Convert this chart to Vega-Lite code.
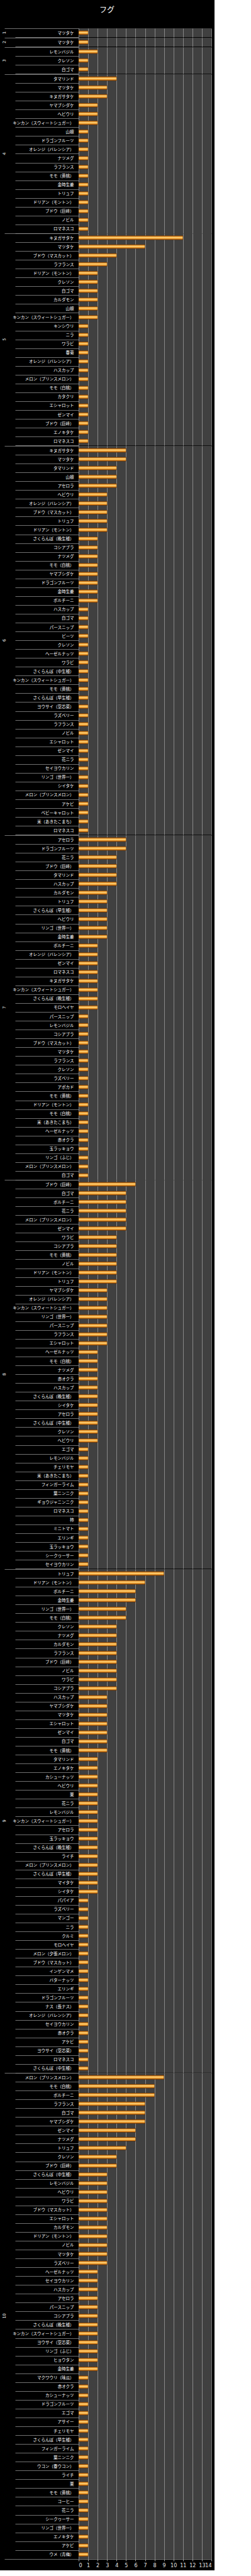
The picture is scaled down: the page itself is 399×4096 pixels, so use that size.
{
"$schema": "https://vega.github.io/schema/vega-lite/v6.json",
"background": "#000000",
"padding": {"left": 3, "top": 10, "right": 4, "bottom": 4},
"title": {"text": "フグ", "color": "#ffffff", "fontSize": 12, "font": "Noto Sans CJK JP", "fontWeight": "normal", "anchor": "middle", "offset": 19},
"data": {"values": [
{"g":1,"item":"マツタケ","v":1},
{"g":2,"item":"マツタケ","v":1},
{"g":3,"item":"レモンバジル","v":2},{"g":3,"item":"クレソン","v":1},{"g":3,"item":"白ゴマ","v":1},
{"g":4,"item":"タマリンド","v":4},{"g":4,"item":"マツタケ","v":3},{"g":4,"item":"キヌガサタケ","v":3},{"g":4,"item":"ヤマブシダケ","v":2},{"g":4,"item":"ヘビウリ","v":2},{"g":4,"item":"キンカン（スウィートシュガー）","v":2},{"g":4,"item":"山椒","v":1},{"g":4,"item":"ドラゴンフルーツ","v":1},{"g":4,"item":"オレンジ（バレンシア）","v":1},{"g":4,"item":"ナツメグ","v":1},{"g":4,"item":"ラフランス","v":1},{"g":4,"item":"モモ（黄桃）","v":1},{"g":4,"item":"金時生姜","v":1},{"g":4,"item":"トリュフ","v":1},{"g":4,"item":"ドリアン（モントン）","v":1},{"g":4,"item":"ブドウ（巨峰）","v":1},{"g":4,"item":"ノビル","v":1},{"g":4,"item":"ロマネスコ","v":1},
{"g":5,"item":"キヌガサタケ","v":11},{"g":5,"item":"マツタケ","v":7},{"g":5,"item":"ブドウ（マスカット）","v":4},{"g":5,"item":"ラフランス","v":3},{"g":5,"item":"ドリアン（モントン）","v":2},{"g":5,"item":"クレソン","v":2},{"g":5,"item":"白ゴマ","v":2},{"g":5,"item":"カルダモン","v":2},{"g":5,"item":"山椒","v":2},{"g":5,"item":"キンカン（スウィートシュガー）","v":2},{"g":5,"item":"キンシウリ","v":1},{"g":5,"item":"ニラ","v":1},{"g":5,"item":"ワラビ","v":1},{"g":5,"item":"春菊","v":1},{"g":5,"item":"オレンジ（バレンシア）","v":1},{"g":5,"item":"ハスカップ","v":1},{"g":5,"item":"メロン（プリンスメロン）","v":1},{"g":5,"item":"モモ（白桃）","v":1},{"g":5,"item":"カタクリ","v":1},{"g":5,"item":"エシャロット","v":1},{"g":5,"item":"ゼンマイ","v":1},{"g":5,"item":"ブドウ（巨峰）","v":1},{"g":5,"item":"エノキタケ","v":1},{"g":5,"item":"ロマネスコ","v":1},
{"g":6,"item":"キヌガサタケ","v":5},{"g":6,"item":"マツタケ","v":5},{"g":6,"item":"タマリンド","v":4},{"g":6,"item":"山椒","v":4},{"g":6,"item":"アセロラ","v":4},{"g":6,"item":"ヘビウリ","v":3},{"g":6,"item":"オレンジ（バレンシア）","v":3},{"g":6,"item":"ブドウ（マスカット）","v":3},{"g":6,"item":"トリュフ","v":3},{"g":6,"item":"ドリアン（モントン）","v":3},{"g":6,"item":"さくらんぼ（晩生種）","v":2},{"g":6,"item":"コシアブラ","v":2},{"g":6,"item":"ナツメグ","v":2},{"g":6,"item":"モモ（白桃）","v":2},{"g":6,"item":"ヤマブシダケ","v":2},{"g":6,"item":"ドラゴンフルーツ","v":2},{"g":6,"item":"金時生姜","v":2},{"g":6,"item":"ポルチーニ","v":2},{"g":6,"item":"ハスカップ","v":1},{"g":6,"item":"白ゴマ","v":1},{"g":6,"item":"パースニップ","v":1},{"g":6,"item":"ビーツ","v":1},{"g":6,"item":"クレソン","v":1},{"g":6,"item":"ヘーゼルナッツ","v":1},{"g":6,"item":"ワラビ","v":1},{"g":6,"item":"さくらんぼ（中生種）","v":1},{"g":6,"item":"キンカン（スウィートシュガー）","v":1},{"g":6,"item":"モモ（黄桃）","v":1},{"g":6,"item":"さくらんぼ（早生種）","v":1},{"g":6,"item":"ヨウサイ（空芯菜）","v":1},{"g":6,"item":"ラズベリー","v":1},{"g":6,"item":"ラフランス","v":1},{"g":6,"item":"ノビル","v":1},{"g":6,"item":"エシャロット","v":1},{"g":6,"item":"ゼンマイ","v":1},{"g":6,"item":"花ニラ","v":1},{"g":6,"item":"セイヨウカリン","v":1},{"g":6,"item":"リンゴ（世界一）","v":1},{"g":6,"item":"シイタケ","v":1},{"g":6,"item":"メロン（プリンスメロン）","v":1},{"g":6,"item":"アケビ","v":1},{"g":6,"item":"ベビーキャロット","v":1},{"g":6,"item":"米（あきたこまち）","v":1},{"g":6,"item":"ロマネスコ","v":1},
{"g":7,"item":"アセロラ","v":5},{"g":7,"item":"ドラゴンフルーツ","v":5},{"g":7,"item":"花ニラ","v":4},{"g":7,"item":"ブドウ（巨峰）","v":4},{"g":7,"item":"タマリンド","v":4},{"g":7,"item":"ハスカップ","v":4},{"g":7,"item":"カルダモン","v":3},{"g":7,"item":"トリュフ","v":3},{"g":7,"item":"さくらんぼ（早生種）","v":3},{"g":7,"item":"ヘビウリ","v":3},{"g":7,"item":"リンゴ（世界一）","v":3},{"g":7,"item":"金時生姜","v":3},{"g":7,"item":"ポルチーニ","v":2},{"g":7,"item":"オレンジ（バレンシア）","v":2},{"g":7,"item":"ゼンマイ","v":2},{"g":7,"item":"ロマネスコ","v":2},{"g":7,"item":"キヌガサタケ","v":2},{"g":7,"item":"キンカン（スウィートシュガー）","v":2},{"g":7,"item":"さくらんぼ（晩生種）","v":2},{"g":7,"item":"モロヘイヤ","v":2},{"g":7,"item":"パースニップ","v":1},{"g":7,"item":"レモンバジル","v":1},{"g":7,"item":"コシアブラ","v":1},{"g":7,"item":"ブドウ（マスカット）","v":1},{"g":7,"item":"マツタケ","v":1},{"g":7,"item":"ラフランス","v":1},{"g":7,"item":"クレソン","v":1},{"g":7,"item":"ラズベリー","v":1},{"g":7,"item":"アボカド","v":1},{"g":7,"item":"モモ（黄桃）","v":1},{"g":7,"item":"ドリアン（モントン）","v":1},{"g":7,"item":"モモ（白桃）","v":1},{"g":7,"item":"米（あきたこまち）","v":1},{"g":7,"item":"ヘーゼルナッツ","v":1},{"g":7,"item":"赤オクラ","v":1},{"g":7,"item":"玉ラッキョウ","v":1},{"g":7,"item":"リンゴ（ふじ）","v":1},{"g":7,"item":"メロン（プリンスメロン）","v":1},{"g":7,"item":"白ゴマ","v":1},
{"g":8,"item":"ブドウ（巨峰）","v":6},{"g":8,"item":"白ゴマ","v":5},{"g":8,"item":"ポルチーニ","v":5},{"g":8,"item":"花ニラ","v":5},{"g":8,"item":"メロン（プリンスメロン）","v":5},{"g":8,"item":"ゼンマイ","v":5},{"g":8,"item":"ワラビ","v":4},{"g":8,"item":"コシアブラ","v":4},{"g":8,"item":"モモ（黄桃）","v":4},{"g":8,"item":"ノビル","v":4},{"g":8,"item":"ドリアン（モントン）","v":4},{"g":8,"item":"トリュフ","v":4},{"g":8,"item":"ヤマブシダケ","v":3},{"g":8,"item":"オレンジ（バレンシア）","v":3},{"g":8,"item":"キンカン（スウィートシュガー）","v":3},{"g":8,"item":"リンゴ（世界一）","v":3},{"g":8,"item":"パースニップ","v":3},{"g":8,"item":"ラフランス","v":3},{"g":8,"item":"エシャロット","v":3},{"g":8,"item":"ヘーゼルナッツ","v":2},{"g":8,"item":"モモ（白桃）","v":2},{"g":8,"item":"ナツメグ","v":2},{"g":8,"item":"赤オクラ","v":2},{"g":8,"item":"ハスカップ","v":2},{"g":8,"item":"さくらんぼ（晩生種）","v":2},{"g":8,"item":"シイタケ","v":2},{"g":8,"item":"アセロラ","v":2},{"g":8,"item":"さくらんぼ（中生種）","v":2},{"g":8,"item":"クレソン","v":2},{"g":8,"item":"ヘビウリ","v":2},{"g":8,"item":"エゴマ","v":1},{"g":8,"item":"レモンバジル","v":1},{"g":8,"item":"チェリモヤ","v":1},{"g":8,"item":"米（あきたこまち）","v":1},{"g":8,"item":"フィンガーライム","v":1},{"g":8,"item":"葉ニンニク","v":1},{"g":8,"item":"ギョウジャニンニク","v":1},{"g":8,"item":"ロマネスコ","v":1},{"g":8,"item":"柿","v":1},{"g":8,"item":"ミニトマト","v":1},{"g":8,"item":"エリンギ","v":1},{"g":8,"item":"玉ラッキョウ","v":1},{"g":8,"item":"シークヮーサー","v":1},{"g":8,"item":"セイヨウカリン","v":1},
{"g":9,"item":"トリュフ","v":9},{"g":9,"item":"ドリアン（モントン）","v":7},{"g":9,"item":"ポルチーニ","v":6},{"g":9,"item":"金時生姜","v":6},{"g":9,"item":"リンゴ（世界一）","v":5},{"g":9,"item":"モモ（白桃）","v":5},{"g":9,"item":"クレソン","v":4},{"g":9,"item":"ナツメグ","v":4},{"g":9,"item":"カルダモン","v":4},{"g":9,"item":"ラフランス","v":4},{"g":9,"item":"ブドウ（巨峰）","v":4},{"g":9,"item":"ノビル","v":4},{"g":9,"item":"ワラビ","v":4},{"g":9,"item":"コシアブラ","v":4},{"g":9,"item":"ハスカップ","v":3},{"g":9,"item":"ヤマブシダケ","v":3},{"g":9,"item":"マツタケ","v":3},{"g":9,"item":"エシャロット","v":3},{"g":9,"item":"ゼンマイ","v":3},{"g":9,"item":"白ゴマ","v":3},{"g":9,"item":"モモ（黄桃）","v":3},{"g":9,"item":"タマリンド","v":2},{"g":9,"item":"エノキタケ","v":2},{"g":9,"item":"カシューナッツ","v":2},{"g":9,"item":"ヘビウリ","v":2},{"g":9,"item":"栗","v":2},{"g":9,"item":"花ニラ","v":2},{"g":9,"item":"レモンバジル","v":2},{"g":9,"item":"キンカン（スウィートシュガー）","v":2},{"g":9,"item":"アセロラ","v":2},{"g":9,"item":"玉ラッキョウ","v":2},{"g":9,"item":"さくらんぼ（晩生種）","v":2},{"g":9,"item":"ライチ","v":2},{"g":9,"item":"メロン（プリンスメロン）","v":2},{"g":9,"item":"さくらんぼ（早生種）","v":2},{"g":9,"item":"マイタケ","v":2},{"g":9,"item":"シイタケ","v":2},{"g":9,"item":"パパイア","v":1},{"g":9,"item":"ラズベリー","v":1},{"g":9,"item":"マンゴー","v":1},{"g":9,"item":"ニラ","v":1},{"g":9,"item":"クルミ","v":1},{"g":9,"item":"モロヘイヤ","v":1},{"g":9,"item":"メロン（夕張メロン）","v":1},{"g":9,"item":"ブドウ（マスカット）","v":1},{"g":9,"item":"インゲンマメ","v":1},{"g":9,"item":"バターナッツ","v":1},{"g":9,"item":"エリンギ","v":1},{"g":9,"item":"ドラゴンフルーツ","v":1},{"g":9,"item":"ナス（長ナス）","v":1},{"g":9,"item":"オレンジ（バレンシア）","v":1},{"g":9,"item":"セイヨウカリン","v":1},{"g":9,"item":"赤オクラ","v":1},{"g":9,"item":"アケビ","v":1},{"g":9,"item":"ヨウサイ（空芯菜）","v":1},{"g":9,"item":"ロマネスコ","v":1},{"g":9,"item":"さくらんぼ（中生種）","v":1},
{"g":10,"item":"メロン（プリンスメロン）","v":9},{"g":10,"item":"モモ（白桃）","v":8},{"g":10,"item":"ポルチーニ","v":8},{"g":10,"item":"ラフランス","v":7},{"g":10,"item":"白ゴマ","v":7},{"g":10,"item":"ヤマブシダケ","v":7},{"g":10,"item":"ゼンマイ","v":6},{"g":10,"item":"ナツメグ","v":6},{"g":10,"item":"トリュフ","v":5},{"g":10,"item":"クレソン","v":4},{"g":10,"item":"ブドウ（巨峰）","v":4},{"g":10,"item":"さくらんぼ（中生種）","v":3},{"g":10,"item":"レモンバジル","v":3},{"g":10,"item":"ヘビウリ","v":3},{"g":10,"item":"ワラビ","v":3},{"g":10,"item":"ブドウ（マスカット）","v":3},{"g":10,"item":"エシャロット","v":3},{"g":10,"item":"カルダモン","v":3},{"g":10,"item":"ドリアン（モントン）","v":3},{"g":10,"item":"ノビル","v":3},{"g":10,"item":"マツタケ","v":3},{"g":10,"item":"ラズベリー","v":3},{"g":10,"item":"ヘーゼルナッツ","v":2},{"g":10,"item":"セイヨウカリン","v":2},{"g":10,"item":"ハスカップ","v":2},{"g":10,"item":"アセロラ","v":2},{"g":10,"item":"パースニップ","v":2},{"g":10,"item":"コシアブラ","v":2},{"g":10,"item":"さくらんぼ（晩生種）","v":2},{"g":10,"item":"キンカン（スウィートシュガー）","v":2},{"g":10,"item":"ヨウサイ（空芯菜）","v":2},{"g":10,"item":"リンゴ（ふじ）","v":2},{"g":10,"item":"ヒョウタン","v":2},{"g":10,"item":"金時生姜","v":2},{"g":10,"item":"マクワウリ（味瓜）","v":1},{"g":10,"item":"赤オクラ","v":1},{"g":10,"item":"カシューナッツ","v":1},{"g":10,"item":"ドラゴンフルーツ","v":1},{"g":10,"item":"エゴマ","v":1},{"g":10,"item":"アサイー","v":1},{"g":10,"item":"チェリモヤ","v":1},{"g":10,"item":"さくらんぼ（早生種）","v":1},{"g":10,"item":"フィンガーライム","v":1},{"g":10,"item":"葉ニンニク","v":1},{"g":10,"item":"ウコン（春ウコン）","v":1},{"g":10,"item":"ライチ","v":1},{"g":10,"item":"栗","v":1},{"g":10,"item":"モモ（黄桃）","v":1},{"g":10,"item":"コーヒー","v":1},{"g":10,"item":"花ニラ","v":1},{"g":10,"item":"シークヮーサー","v":1},{"g":10,"item":"リンゴ（世界一）","v":1},{"g":10,"item":"エノキタケ","v":1},{"g":10,"item":"アケビ","v":1},{"g":10,"item":"ウメ（青梅）","v":1}
]},
"facet": {"row": {"field": "g", "type": "ordinal", "sort": "ascending", "title": null,
  "header": {"labelColor": "#ffffff", "labelFont": "DejaVu Sans", "labelFontSize": 6.5, "labelAngle": 270, "labelOrient": "left", "labelPadding": 109}}},
"spacing": 0,
"bounds": "flush",
"resolve": {"scale": {"y": "independent"}},
"spec": {
  "width": 211,
  "height": {"step": 14.05},
  "mark": {"type": "bar", "height": {"band": 0.45},
    "fill": {"gradient": "linear", "x1": 0, "y1": 0, "x2": 0, "y2": 1, "stops": [
      {"offset": 0, "color": "#8e4a08"}, {"offset": 0.18, "color": "#e58f26"}, {"offset": 0.42, "color": "#fdd37c"}, {"offset": 0.62, "color": "#f6b347"}, {"offset": 0.85, "color": "#d37a1a"}, {"offset": 1, "color": "#7a3c05"}]},
    "stroke": "#5a2c02", "strokeWidth": 0.5},
  "encoding": {
    "y": {"field": "item", "type": "nominal", "sort": null,
      "scale": {"paddingInner": 0, "paddingOuter": 0},
      "axis": {"title": null, "domain": false, "grid": false, "ticks": true, "tickBand": "extent",
        "tickColor": "#a0a0a0", "tickWidth": 0.7,
        "tickSize": {"condition": {"test": "datum.index === -1 || datum.value === 'ウメ（青梅）'", "value": 118}, "value": 101},
        "labelPadding": {"condition": {"test": "datum.value === 'ウメ（青梅）'", "value": -110}, "value": -93},
        "labelColor": "#ffffff", "labelFont": "Noto Sans CJK JP", "labelFontSize": 6.5, "labelOverlap": false, "labelLimit": 0}},
    "x": {"field": "v", "type": "quantitative", "scale": {"domain": [0, 14], "nice": false},
      "axis": {"title": null, "values": [0,1,2,3,4,5,6,7,8,9,10,11,12,13,14], "grid": true, "gridColor": "#a8a8a8", "gridWidth": 0.7,
        "domainColor": "#a0a0a0", "domainWidth": 0.8, "tickColor": "#a0a0a0", "tickSize": 3,
        "labelColor": "#e6e6e6", "labelFont": "DejaVu Sans", "labelFontSize": 8, "labelPadding": 3, "labelOverlap": false}}
  }
},
"config": {"view": {"fill": "#404040", "stroke": null}}
}
